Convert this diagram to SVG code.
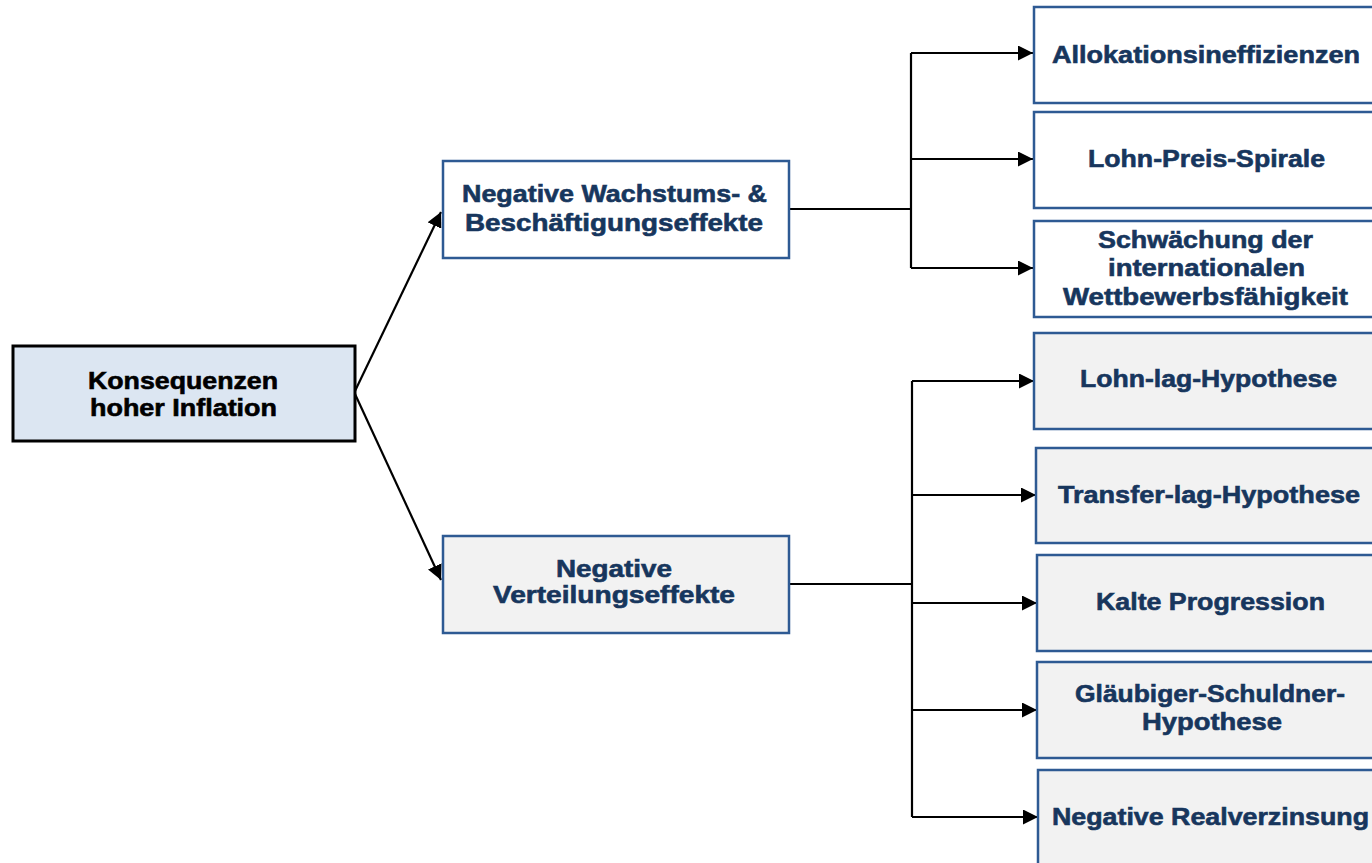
<svg xmlns="http://www.w3.org/2000/svg" width="1372" height="863" viewBox="0 0 1372 863">
  <style>
    .lbl { font-family: "Liberation Sans", Arial, sans-serif; font-weight: bold; font-size: 24px; fill: #17365d; stroke: #17365d; stroke-width: 0.6; }
    .root-lbl { fill: #000000; stroke: #000000; }
    .box { stroke: #2e5a93; stroke-width: 2.5; }
    .white { fill: #ffffff; }
    .grey { fill: #f2f2f2; }
    .root { fill: #dce6f2; stroke: #000000; stroke-width: 3; }
    .conn { fill: none; stroke: #000000; stroke-width: 2.2; }
  </style>
  <defs>
    <marker id="arrow" markerUnits="userSpaceOnUse" markerWidth="16" markerHeight="15" refX="15" refY="7.5" orient="auto">
      <path d="M0,0 L15,7.5 L0,15 Z" fill="#000000"/>
    </marker>
  </defs>

  <rect width="1372" height="863" fill="#ffffff"/>

  <!-- connectors -->
  <g id="connectors">
    <line class="conn" x1="355" y1="391" x2="441" y2="212" marker-end="url(#arrow)"/>
    <line class="conn" x1="355" y1="394" x2="441" y2="580" marker-end="url(#arrow)"/>

    <path class="conn" d="M789,209 H911 M911,53 V268"/>
    <line class="conn" x1="911" y1="53" x2="1033" y2="53" marker-end="url(#arrow)"/>
    <line class="conn" x1="911" y1="159" x2="1033" y2="159" marker-end="url(#arrow)"/>
    <line class="conn" x1="911" y1="268" x2="1033" y2="268" marker-end="url(#arrow)"/>

    <path class="conn" d="M789,584 H912 M912,381 V817"/>
    <line class="conn" x1="912" y1="381" x2="1034" y2="381" marker-end="url(#arrow)"/>
    <line class="conn" x1="912" y1="495" x2="1036" y2="495" marker-end="url(#arrow)"/>
    <line class="conn" x1="912" y1="603" x2="1037" y2="603" marker-end="url(#arrow)"/>
    <line class="conn" x1="912" y1="710" x2="1037" y2="710" marker-end="url(#arrow)"/>
    <line class="conn" x1="912" y1="817" x2="1038" y2="817" marker-end="url(#arrow)"/>
  </g>

  <!-- root -->
  <g id="node-root">
    <rect class="root" x="13" y="346" width="342" height="95"/>
    <text class="lbl root-lbl" x="88" y="389" textLength="190" lengthAdjust="spacingAndGlyphs">Konsequenzen</text>
    <text class="lbl root-lbl" x="90" y="416" textLength="187" lengthAdjust="spacingAndGlyphs">hoher Inflation</text>
  </g>

  <!-- second level -->
  <g id="node-wachstum">
    <rect class="box white" x="443" y="161" width="346" height="97"/>
    <text class="lbl" x="462" y="202" textLength="305" lengthAdjust="spacingAndGlyphs">Negative Wachstums- &amp;</text>
    <text class="lbl" x="465" y="231" textLength="298" lengthAdjust="spacingAndGlyphs">Beschäftigungseffekte</text>
  </g>
  <g id="node-verteilung">
    <rect class="box grey" x="443" y="536" width="346" height="97"/>
    <text class="lbl" x="556" y="577" textLength="116" lengthAdjust="spacingAndGlyphs">Negative</text>
    <text class="lbl" x="493" y="603" textLength="242" lengthAdjust="spacingAndGlyphs">Verteilungseffekte</text>
  </g>

  <!-- growth / employment effects -->
  <g id="node-allokation">
    <rect class="box white" x="1034" y="7" width="360" height="96"/>
    <text class="lbl" x="1052" y="63" textLength="308" lengthAdjust="spacingAndGlyphs">Allokationsineffizienzen</text>
  </g>
  <g id="node-lohn-preis">
    <rect class="box white" x="1034" y="112" width="360" height="96"/>
    <text class="lbl" x="1088" y="167" textLength="237" lengthAdjust="spacingAndGlyphs">Lohn-Preis-Spirale</text>
  </g>
  <g id="node-wettbewerb">
    <rect class="box white" x="1034" y="221" width="360" height="96"/>
    <text class="lbl" x="1098" y="248" textLength="215" lengthAdjust="spacingAndGlyphs">Schwächung der</text>
    <text class="lbl" x="1108" y="276" textLength="197" lengthAdjust="spacingAndGlyphs">internationalen</text>
    <text class="lbl" x="1063" y="305" textLength="285" lengthAdjust="spacingAndGlyphs">Wettbewerbsfähigkeit</text>
  </g>

  <!-- distribution effects -->
  <g id="node-lohn-lag">
    <rect class="box grey" x="1034" y="333" width="360" height="96"/>
    <text class="lbl" x="1080" y="387" textLength="257" lengthAdjust="spacingAndGlyphs">Lohn-lag-Hypothese</text>
  </g>
  <g id="node-transfer-lag">
    <rect class="box grey" x="1036" y="448" width="360" height="95"/>
    <text class="lbl" x="1058" y="503" textLength="302" lengthAdjust="spacingAndGlyphs">Transfer-lag-Hypothese</text>
  </g>
  <g id="node-kalte">
    <rect class="box grey" x="1037" y="555" width="360" height="96"/>
    <text class="lbl" x="1096" y="610" textLength="229" lengthAdjust="spacingAndGlyphs">Kalte Progression</text>
  </g>
  <g id="node-glaeubiger">
    <rect class="box grey" x="1037" y="662" width="360" height="96"/>
    <text class="lbl" x="1075" y="702" textLength="270" lengthAdjust="spacingAndGlyphs">Gläubiger-Schuldner-</text>
    <text class="lbl" x="1142" y="730" textLength="140" lengthAdjust="spacingAndGlyphs">Hypothese</text>
  </g>
  <g id="node-realzins">
    <rect class="box grey" x="1038" y="770" width="360" height="110"/>
    <text class="lbl" x="1052" y="825" textLength="317" lengthAdjust="spacingAndGlyphs">Negative Realverzinsung</text>
  </g>
</svg>
